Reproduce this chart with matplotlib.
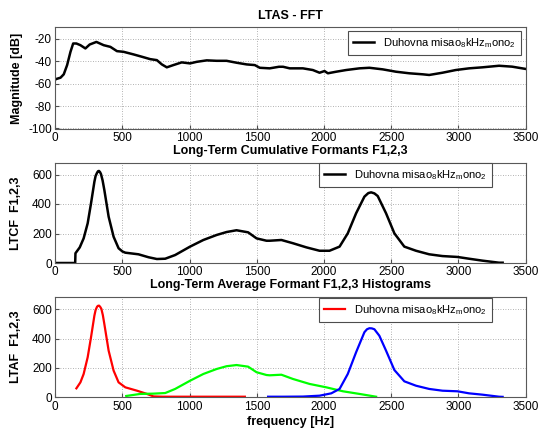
import matplotlib
matplotlib.use("Agg")
import matplotlib.pyplot as plt

plt.rcParams['font.family'] = ['Liberation Sans', 'DejaVu Sans']
plt.rcParams['mathtext.default'] = 'regular'
plt.rcParams['axes.unicode_minus'] = False

# Long-term average spectrum (FFT)
ltas_freq = [0, 9, 39, 63, 88, 113, 133, 157, 187, 224, 256, 306, 360, 410, 459, 508,
             582, 645, 706, 756, 793, 830, 879, 941, 1003, 1053, 1127, 1201, 1275, 1349,
             1424, 1485, 1522, 1596, 1665, 1695, 1745, 1843, 1917, 1967, 2004, 2029, 2091,
             2165, 2264, 2338, 2437, 2536, 2635, 2734, 2783, 2882, 2981, 3080, 3179, 3303,
             3400, 3500]
ltas_db = [-56.5, -55.9, -54.8, -51.8, -43.6, -31.8, -24.4, -24.4, -25.9, -28.8, -25.3,
           -23.0, -25.9, -27.4, -31.2, -31.8, -34.1, -36.2, -38.3, -39.2, -43.0, -45.6,
           -43.6, -41.2, -42.1, -40.7, -39.4, -39.8, -39.8, -41.5, -43.0, -43.6, -46.0,
           -46.5, -45.1, -45.1, -46.5, -46.5, -48.0, -50.4, -48.9, -50.9, -49.5, -48.0,
           -46.5, -46.0, -47.4, -49.5, -50.9, -51.8, -52.4, -50.4, -48.0, -46.5, -45.6,
           -44.2, -45.0, -47.0]

# Long-term cumulative formants F1,2,3
ltcf_freq = [0, 148, 150, 182, 211, 241, 266, 291, 300, 311, 318, 325, 333, 340, 352, 365,
             397, 434, 471, 500, 521, 619, 694, 756, 818, 892, 1003, 1102, 1201, 1275, 1349,
             1435, 1498, 1572, 1596, 1683, 1769, 1869, 1967, 2041, 2116, 2177, 2239, 2301,
             2330, 2351, 2375, 2400, 2462, 2524, 2598, 2685, 2783, 2882, 2993, 3080, 3179,
             3303, 3330]
ltcf_val = [0, 0, 66, 106, 167, 269, 405, 551, 590, 612, 622, 624, 616, 603, 560, 495,
            314, 178, 100, 78, 70, 59, 39, 27, 29, 54, 111, 156, 190, 210, 222,
            208, 167, 151, 151, 156, 134, 106, 83, 83, 111, 201, 337, 450,
            474, 479, 472, 454, 337, 201, 111, 83, 59, 47, 41, 29, 16,
            2, 2]

# Long-term average formant histograms
f1_freq = [157, 187, 211, 241, 266, 291, 300, 311, 318, 326, 334, 343, 354, 365, 397, 434,
           471, 521, 608, 682, 731, 800, 1000, 1200, 1411]
f1_val = [61, 102, 159, 273, 410, 557, 595, 618, 624, 625, 617, 603, 560, 500, 318, 182,
          102, 68, 45, 23, 6, 4, 4, 4, 4]

f2_freq = [528, 632, 731, 818, 892, 1003, 1102, 1201, 1275, 1349, 1435, 1498, 1572, 1596,
           1683, 1769, 1893, 2017, 2141, 2264, 2388]
f2_val = [9, 23, 25, 29, 57, 113, 159, 193, 212, 220, 209, 171, 152, 150,
          154, 125, 91, 68, 41, 23, 4]

f3_freq = [1584, 1700, 1843, 1967, 2054, 2116, 2177, 2239, 2301, 2320, 2338, 2356, 2375,
           2412, 2462, 2524, 2598, 2685, 2783, 2882, 2993, 3080, 3179, 3303, 3330]
f3_val = [4, 4, 5, 11, 27, 57, 159, 307, 444, 464, 471, 470, 464,
          420, 318, 186, 109, 79, 57, 45, 41, 27, 18, 4, 3]

x_ticks = [0, 500, 1000, 1500, 2000, 2500, 3000, 3500]
legend_label = r'Duhovna misao$_{8}$kHz$_{m}$ono$_{2}$'

W, H = 546, 432
fig = plt.figure(figsize=(W / 100, H / 100), dpi=100)


def make_axes(top_px, bottom_px):
    left_px, right_px = 55.3, 525.5
    return fig.add_axes([left_px / W, 1 - bottom_px / H,
                         (right_px - left_px) / W, (bottom_px - top_px) / H])


def style(ax):
    ax.set_xlim(0, 3500)
    ax.set_xticks(x_ticks)
    ax.grid(True, linestyle=(0, (1, 2)), color='0.6', linewidth=0.6)
    ax.tick_params(direction='in', length=3, labelsize=8.5, pad=2.5, color='0.3')
    for s in ax.spines.values():
        s.set_color('0.35')
        s.set_linewidth(0.8)


def add_legend(ax, handles, x, y):
    leg = ax.legend(handles=handles, labels=[legend_label], loc='upper right',
                    bbox_to_anchor=(x, y), borderaxespad=0, fontsize=8,
                    fancybox=False, framealpha=1, handlelength=1.9,
                    borderpad=0.45, handletextpad=0.8)
    leg.get_frame().set_edgecolor('0.3')
    leg.get_frame().set_linewidth(0.8)


title_kw = dict(fontsize=9, fontweight='bold', pad=6)
label_kw = dict(fontsize=9, fontweight='bold')

# Panel 1: LTAS
ax1 = make_axes(27.3, 128.5)
l1, = ax1.plot(ltas_freq, ltas_db, color='black', linewidth=1.8)
ax1.set_ylim(-100, -10)
ax1.set_yticks([-100, -80, -60, -40, -20])
style(ax1)
ax1.set_title('LTAS - FFT', **title_kw)
ax1.set_ylabel('Magnitude [dB]', labelpad=4, **label_kw)
add_legend(ax1, [l1], 0.990, 0.965)

# Panel 2: LTCF
ax2 = make_axes(162.7, 263.0)
l2, = ax2.plot(ltcf_freq, ltcf_val, color='black', linewidth=1.8)
ax2.set_ylim(0, 680)
ax2.set_yticks([0, 200, 400, 600])
style(ax2)
ax2.set_title('Long-Term Cumulative Formants F1,2,3', **title_kw)
ax2.set_ylabel('LTCF  F1,2,3', labelpad=7, **label_kw)
add_legend(ax2, [l2], 0.928, 0.997)

# Panel 3: LTAF histograms
ax3 = make_axes(296.7, 397.3)
l3, = ax3.plot(f1_freq, f1_val, color='#ff0000', linewidth=1.6)
ax3.plot(f2_freq, f2_val, color='#00ff00', linewidth=1.6)
ax3.plot(f3_freq, f3_val, color='#0000ff', linewidth=1.6)
ax3.set_ylim(0, 686)
ax3.set_yticks([0, 200, 400, 600])
style(ax3)
ax3.set_title('Long-Term Average Formant F1,2,3 Histograms', **title_kw)
ax3.set_ylabel('LTAF  F1,2,3', labelpad=7, **label_kw)
ax3.set_xlabel('frequency [Hz]', labelpad=2, **label_kw)
add_legend(ax3, [l3], 0.928, 0.987)

fig.savefig('out.png', dpi=100)
